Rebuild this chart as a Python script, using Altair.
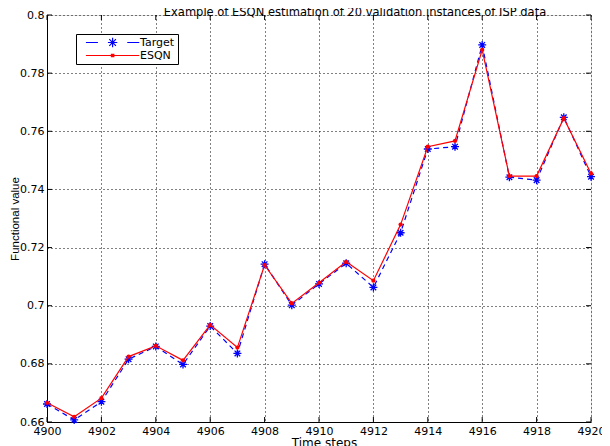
import altair as alt
import pandas as pd

steps = list(range(4900, 4921))
target = [0.6662, 0.6607, 0.6670, 0.6816, 0.6860, 0.6798, 0.6930, 0.6836, 0.7143, 0.7002,
          0.7075, 0.7146, 0.7063, 0.7251, 0.7539, 0.7547, 0.7897, 0.7442, 0.7432, 0.7648, 0.7444]
esqn = [0.6666, 0.6618, 0.6682, 0.6825, 0.6862, 0.6812, 0.6934, 0.6856, 0.7140, 0.7008,
        0.7079, 0.7151, 0.7086, 0.7279, 0.7547, 0.7567, 0.7880, 0.7446, 0.7446, 0.7645, 0.7455]
series_names = ["Target", "ESQN"]
x_ticks = [4900, 4902, 4904, 4906, 4908, 4910, 4912, 4914, 4916, 4918, 4920]
y_ticks = [0.66, 0.68, 0.70, 0.72, 0.74, 0.76, 0.78, 0.80]

df = pd.DataFrame({
    "step": steps * 2,
    "value": target + esqn,
    "series": ["Target"] * len(steps) + ["ESQN"] * len(steps),
})
xt = pd.DataFrame({"t": x_ticks})
yt = pd.DataFrame({"t": y_ticks})

W, H = 544, 407
FONT = "DejaVu Sans"

xscale = alt.Scale(domain=[4900, 4920], nice=False, zero=False)
yscale = alt.Scale(domain=[0.66, 0.80], nice=False, zero=False)

x_axis = alt.Axis(values=x_ticks, format="d", grid=True, gridColor="black", gridDash=[1, 3],
                  gridOpacity=1, ticks=False, tickSize=0, labelFont=FONT, labelFontSize=11,
                  labelColor="black", labelPadding=3, domainColor="black", title="Time steps",
                  titleFont=FONT, titleFontSize=12, titleFontWeight="normal", titleColor="black",
                  titleX=277, titleY=24, titleBaseline="alphabetic", titleAlign="center",
                  labelFlush=False, labelOverlap=False)
y_axis = alt.Axis(values=y_ticks, format=".2~f", grid=True, gridColor="black", gridDash=[1, 3],
                  gridOpacity=1, ticks=False, tickSize=0, labelFont=FONT, labelFontSize=11,
                  labelColor="black", labelPadding=3, domainColor="black", title="Functional value",
                  titleFont="Liberation Sans Narrow, Liberation Sans", titleFontSize=11.5,
                  titleFontWeight="normal", titleColor="black", titleAngle=-90, titleX=-29,
                  titleY=203.5, titleBaseline="alphabetic", titleAlign="center",
                  labelFlush=False, labelOverlap=False)

star_path = "M-1,0L1,0M0,-1L0,1M-0.7,-0.7L0.7,0.7M-0.7,0.7L0.7,-0.7"
# legend symbols, drawn to the right of the symbol anchor
leg_target = ("M0.478,0L4.478,0M14.256,0L18.256,0"
              "M7.807,0L10.927,0M9.367,-1.56L9.367,1.56"
              "M8.267,-1.1L10.467,1.1M8.267,1.1L10.467,-1.1")
leg_esqn = "M0.478,0L18.256,0M8.967,-0.35L9.767,-0.35L9.767,0.35L8.967,0.35Z"

legend = alt.Legend(
    orient="none", legendX=29, legendY=19, title=None, strokeColor="black", fillColor="white",
    padding=3, symbolSize=36, labelFont=FONT, labelFontSize=11, labelColor="black",
    labelOffset=50, rowPadding=-2, symbolOpacity=1, symbolStrokeWidth=1.2,
    symbolDash=[1, 0],
)

X = alt.X("step:Q", scale=xscale, axis=x_axis)
Y = alt.Y("value:Q", scale=yscale, axis=y_axis)

target_df = alt.Chart(df).transform_filter(alt.datum.series == "Target")
esqn_df = alt.Chart(df).transform_filter(alt.datum.series == "ESQN")

target_line = target_df.mark_line(color="#0000ff", strokeWidth=1.2, strokeDash=[5, 4]).encode(
    x=X, y=Y, order=alt.Order("step:Q"))
esqn_line = esqn_df.mark_line(color="#ff0000", strokeWidth=1.2).encode(
    x=X, y=Y, order=alt.Order("step:Q"))

stars = target_df.mark_point(
    shape=star_path, size=64, filled=False, color="#0000ff", strokeWidth=1.3, opacity=1
).encode(x=X, y=Y)

dots = esqn_df.mark_circle(size=18, color="#ff0000", opacity=1).encode(x=X, y=Y)

legend_layer = alt.Chart(df).mark_point(filled=False, opacity=0, size=36).encode(
    x=X, y=Y,
    color=alt.Color("series:N", scale=alt.Scale(domain=series_names, range=["#0000ff", "#ff0000"]),
                    legend=legend, sort=series_names),
    shape=alt.Shape("series:N", scale=alt.Scale(domain=series_names, range=[leg_target, leg_esqn]),
                    legend=legend, sort=series_names),
)

tick_len = 5
bottom_ticks = alt.Chart(xt).mark_rule(color="black", strokeWidth=1).encode(
    x=alt.X("t:Q", scale=xscale), y=alt.value(H), y2=alt.value(H - tick_len))
top_ticks = alt.Chart(xt).mark_rule(color="black", strokeWidth=1).encode(
    x=alt.X("t:Q", scale=xscale), y=alt.value(0), y2=alt.value(tick_len))
left_ticks = alt.Chart(yt).mark_rule(color="black", strokeWidth=1).encode(
    y=alt.Y("t:Q", scale=yscale), x=alt.value(0), x2=alt.value(tick_len))
right_ticks = alt.Chart(yt).mark_rule(color="black", strokeWidth=1).encode(
    y=alt.Y("t:Q", scale=yscale), x=alt.value(W), x2=alt.value(W - tick_len))

chart = alt.layer(
    target_line, stars, esqn_line, dots, legend_layer,
    bottom_ticks, top_ticks, left_ticks, right_ticks,
).properties(
    width=W, height=H,
    autosize=alt.AutoSizeParams(type="none"),
    padding={"left": 39, "top": 7, "right": 11, "bottom": 24},
    title=alt.TitleParams(
        text="Example of ESQN estimation of 20 validation instances of ISP data",
        font=FONT, fontSize=11.5, fontWeight="normal", color="black", anchor="middle",
        dx=36, dy=18, offset=0, baseline="alphabetic"),
).configure_view(
    stroke="black", strokeWidth=1
).configure(background="white")

chart.save("out.html", embed_options={"renderer": "svg", "actions": False})
